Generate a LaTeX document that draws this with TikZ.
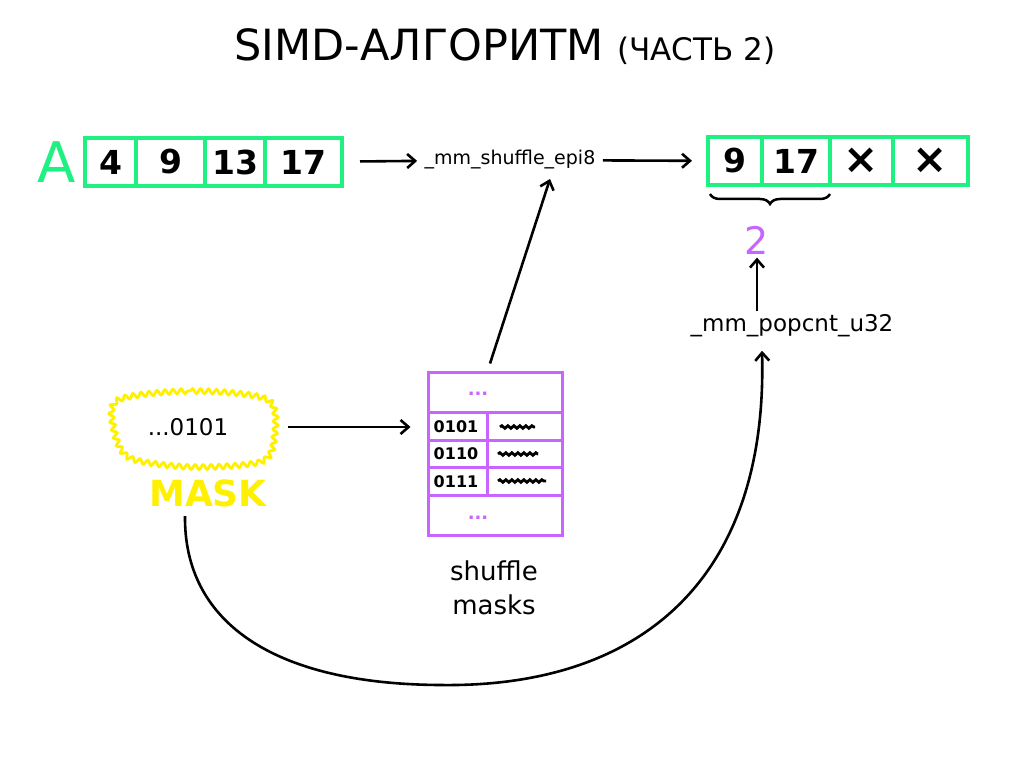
\documentclass[tikz,border=0pt]{standalone}
\usepackage{fontspec}
\setmainfont{DejaVu Sans}
\usetikzlibrary{arrows.meta,decorations.pathmorphing,decorations.pathreplacing}
\definecolor{grn}{RGB}{30,240,130}
\definecolor{pur}{RGB}{200,100,255}
\definecolor{yel}{RGB}{255,240,0}
\begin{document}
\begin{tikzpicture}[x=1pt,y=-1pt,
  arr/.style={line width=2.6pt, -{Straight Barb[length=8pt,width=14pt]}},
  cellbox/.style={draw=grn, line width=4pt, minimum height=48pt, inner sep=0pt,
    font=\fontsize{33}{36}\selectfont\bfseries},
  code/.style={font=\fontsize{19}{22}\selectfont},
  bits/.style={font=\fontsize{16}{18}\selectfont\bfseries},
  dots/.style={text=pur, font=\fontsize{18}{20}\selectfont\bfseries},
  scribble/.style={line width=2.8pt, decorate, decoration={snake, amplitude=1.3pt, segment length=6pt}},
  tline/.style={draw=pur, line width=3pt}]
\useasboundingbox (0,0) rectangle (1024,767);

% title
\node (title) at (505,47) {\fontsize{43}{46}\selectfont SIMD-АЛГОРИТМ \fontsize{31}{34}\selectfont(ЧАСТЬ 2)};

% array A
\node[text=grn, font=\fontsize{56}{60}\selectfont] (alabel) at (57,162) {A};
\node[cellbox, minimum width=51pt] (a1) at (110.5,162) {4};
\node[cellbox, minimum width=69pt] (a2) at (170.5,162) {9};
\node[cellbox, minimum width=60pt] (a3) at (235,162) {13};
\node[cellbox, minimum width=77pt] (a4) at (303.5,162) {17};

% shuffle
\node[code] (shuf) at (510,160) {\_mm\_shuffle\_epi8};
\draw[arr, shorten <=16pt, shorten >=4pt] (a4) -- (shuf);

% result
\node[cellbox, minimum width=54pt] (r1) at (735,161) {9};
\node[cellbox, minimum width=68pt] (r2) at (796,161) {17};
\node[cellbox, minimum width=63pt, font=\fontsize{42}{44}\selectfont\bfseries] (r3) at (861.5,161) {×};
\node[cellbox, minimum width=75pt, font=\fontsize{42}{44}\selectfont\bfseries] (r4) at (930.5,161) {×};
\draw[arr, shorten <=4pt, shorten >=14pt] (shuf) -- (r1);

% brace
\draw[line width=2.5pt, decorate, decoration={brace, amplitude=10pt, mirror}] (710,194) -- (830,194);
\node[text=pur, font=\fontsize{38}{40}\selectfont] (two) at (757,240) {2};

% popcnt
\node[font=\fontsize{23}{26}\selectfont] (pop) at (792,326) {\_mm\_popcnt\_u32};
\draw[arr] (pop.north -| two.south) -- (two.south);

% shuffle masks table
\node[tline, minimum width=134pt, minimum height=163pt, inner sep=0pt] (tbl) at (495,453.5) {};
\draw[tline] (428,412) -- (562,412);
\draw[tline] (428,440) -- (562,440);
\draw[tline] (428,467) -- (562,467);
\draw[tline] (428,495) -- (562,495);
\draw[tline] (487,412) -- (487,495);
\node[dots] (dtop) at (478,394) {...};
\node[dots] (dbot) at (478,518) {...};
\node[bits] (b1) at (456,427) {0101};
\node[bits] (b2) at (456,454) {0110};
\node[bits] (b3) at (456,482) {0111};
\draw[scribble] (500,427) -- (535,427);
\draw[scribble] (498,454) -- (538,454);
\draw[scribble] (498,481) -- (546,481);
\node[align=center, font=\fontsize{26}{34}\selectfont] (tlbl) at (494,588) {shuffle\\ masks};
\draw[arr] ([xshift=-5pt,yshift=7pt]tbl.north) -- ([xshift=40pt,yshift=-6pt]shuf.south);

% mask
\node[font=\fontsize{23}{26}\selectfont, minimum width=160pt, minimum height=74pt] (mask) at (188,427) {...0101};
\draw[yel, line width=2.8pt, decorate, decoration={snake, amplitude=2.4pt, segment length=8pt}]
  plot[smooth cycle] coordinates {(116,400) (190,391) (266,400) (272,440) (258,462) (190,467) (128,458) (112,430)};
\node[text=yel, font=\fontsize{36}{38}\selectfont\bfseries] (masklbl) at (208,493) {MASK};
\draw[arr, shorten <=20pt, shorten >=16pt] (mask) -- (tbl.west |- mask);

% curve
\draw[arr] ([xshift=-23pt,yshift=-6pt]masklbl.south) .. controls (184,620) and (270,684) .. (440,685)
   .. controls (640,688) and (768,580) .. ([xshift=-30pt,yshift=-10pt]pop.south);
\end{tikzpicture}
\end{document}
